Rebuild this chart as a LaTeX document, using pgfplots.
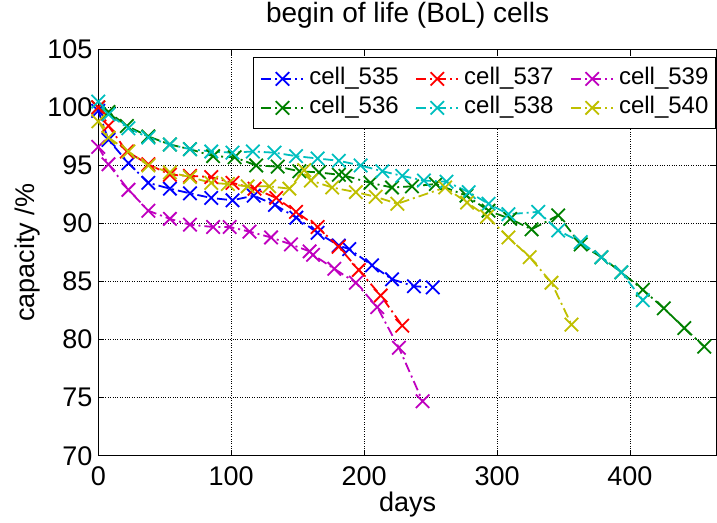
\documentclass[border=0pt]{standalone}
\usepackage{pgfplots}
\pgfplotsset{compat=1.18}
\usepackage{fontspec}
\setmainfont{Liberation Sans}
\definecolor{mb}{rgb}{0,0,1}
\definecolor{mg}{rgb}{0,0.5,0}
\definecolor{mr}{rgb}{1,0,0}
\definecolor{mc}{rgb}{0,0.75,0.75}
\definecolor{mm}{rgb}{0.75,0,0.75}
\definecolor{my}{rgb}{0.75,0.75,0}
\begin{document}
\begin{tikzpicture}
\useasboundingbox (-98.3pt,-67pt) rectangle (619pt,456pt);
\begin{axis}[
  at={(0pt,0pt)}, anchor=south west,
  scale only axis, width=619pt, height=406.7pt,
  xmin=0, xmax=465.5, ymin=70, ymax=105,
  xtick={0,100,200,300,400}, ytick={70,75,80,85,90,95,100,105},
  tick align=inside, major tick length=6pt,
  tick style={black, line width=0.8pt},
  xmajorgrids, ymajorgrids,
  grid style={dotted, black, line width=0.8pt},
  axis line style={line width=1.2pt},
  /pgf/number format/assume math mode=true,
  tick label style={font=\fontsize{27}{32}\selectfont, inner sep=0pt},
  yticklabel style={xshift=-5.6pt},
  xticklabel style={yshift=-11pt},
  title={begin of life (BoL) cells},
  title style={at={(axis description cs:0.5,1)}, anchor=base, yshift=21pt, font=\fontsize{28}{32}\selectfont},
  xlabel={days},
  xlabel style={at={(axis description cs:0.5,0)}, anchor=base, yshift=-56pt, font=\fontsize{27}{32}\selectfont},
  ylabel={capacity /\%},
  ylabel style={at={(axis description cs:-0.1023,0.5)}, anchor=base, rotate=0, font=\fontsize{27}{32}\selectfont},
  every axis plot/.append style={line width=1.8pt, dash pattern=on 10pt off 4pt on 2pt off 4pt, mark=x, mark size=9.5pt, mark options={solid, line width=1.8pt}},
  legend image code/.code={\draw[mark repeat=2,mark phase=2,#1] plot coordinates {(0pt,0pt)(21pt,0pt)(42pt,0pt)};},
  legend columns=2, transpose legend,
  legend style={draw=black, line width=1.2pt, at={(1,1)}, anchor=north east, xshift=-1pt, yshift=-8pt,
    font=\fontsize{24}{28}\selectfont, inner xsep=7pt, inner ysep=10pt,
    nodes={inner sep=0pt, text height=17pt, text depth=5pt},
    row sep=7pt, column sep=5pt,
    /tikz/every even column/.append style={column sep=16.7pt}},
  legend cell align=left,
]
\addplot[color=mb] coordinates {(0,99.7)(7.7,97.2)(22.7,95.2)(37.7,93.5)(53.9,93.0)(69,92.6)(85,92.2)(101,92.0)(117,92.4)(133,91.6)(149,90.5)(165,89.2)(181,88.1)(188.8,87.8)(206,86.4)(221,85.2)(237.5,84.6)(251.7,84.5)};
\addlegendentry{cell\_535}
\addplot[color=mg] coordinates {(0,100.0)(7.7,99.6)(21.5,98.4)(37.7,97.5)(53.9,96.8)(69,96.4)(86.4,95.8)(102.6,95.7)(118.8,95.0)(135,94.9)(151.3,94.5)(166,94.4)(181,94.2)(186,94.1)(204.8,93.5)(221,93.1)(236,93.2)(254,93.4)(277,92.4)(293.6,91.1)(309.9,90.4)(326,89.5)(346,90.7)(363,88.2)(378.5,87.1)(393.5,85.8)(409.7,84.3)(425.5,82.7)(440.9,81.0)(455.9,79.4)};
\addlegendentry{cell\_536}
\addplot[color=mr] coordinates {(0,100.0)(7.7,98.4)(21.5,96.2)(37.7,95.1)(53.9,94.2)(69,94.1)(85,94.0)(101,93.5)(117.6,93.0)(133.9,92.2)(148.8,91.0)(165,89.7)(180.8,88.0)(196,86.0)(212.5,83.8)(228.7,81.2)};
\addlegendentry{cell\_537}
\addplot[color=mc] coordinates {(0,100.5)(7.7,99.4)(22.7,98.2)(37.7,97.4)(53.9,96.8)(69,96.4)(85,96.2)(101,96.1)(116.3,96.2)(132.6,96.1)(148.8,95.8)(165,95.6)(181,95.4)(197.4,95.0)(213.7,94.5)(228.7,94.1)(245,93.7)(262,93.6)(278.7,92.7)(293.6,91.7)(308.6,90.8)(331,91.0)(346,89.4)(363,88.4)(378.5,87.1)(393.5,85.8)(409.7,83.4)};
\addlegendentry{cell\_538}
\addplot[color=mm] coordinates {(0,96.6)(7.7,95.1)(22.7,92.9)(37.7,91.1)(53.9,90.4)(69,89.9)(86.4,89.7)(98.9,89.7)(113.8,89.3)(130,88.8)(145,88.2)(159,87.6)(161.6,87.3)(177.6,86.1)(193.8,84.9)(209.9,82.8)(226.2,79.3)(244,74.7)};
\addlegendentry{cell\_539}
\addplot[color=my] coordinates {(0,98.8)(7.7,97.4)(22.7,96.2)(37.7,95.0)(53.9,94.4)(69,94.0)(85,93.5)(97.5,93.4)(112.4,93.2)(128.6,93.2)(143.8,93.0)(155,94.6)(160,93.7)(176,93.1)(193.8,92.7)(208.7,92.3)(225,91.7)(261,93.1)(277.5,91.8)(292.5,90.6)(308.6,88.8)(324.6,87.1)(341,84.9)(356,81.3)};
\addlegendentry{cell\_540}
\end{axis}
\end{tikzpicture}
\end{document}
